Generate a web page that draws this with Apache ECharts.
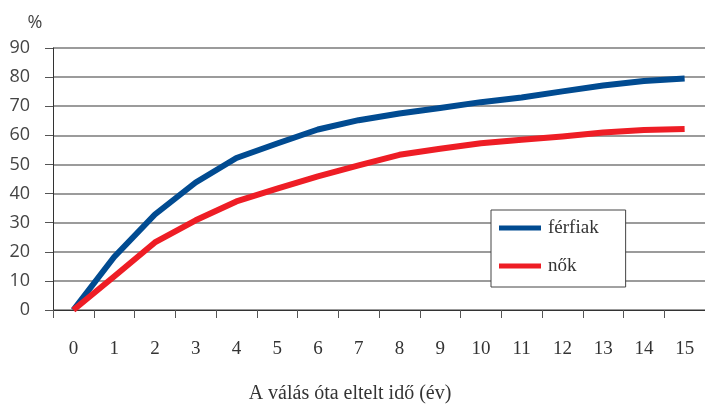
<!DOCTYPE html>
<html>
<head>
<meta charset="utf-8">
<script src="https://cdn.jsdelivr.net/npm/echarts@6/dist/echarts.min.js"></script>
<style>
html,body{margin:0;padding:0;background:#fff;}
#c{width:705px;height:409px;}
</style>
</head>
<body>
<div id="c"></div>
<script>
const years = ['0','1','2','3','4','5','6','7','8','9','10','11','12','13','14','15'];
const ferfiak = [0, 18.2, 32.8, 43.8, 52.2, 57.2, 62.0, 65.2, 67.5, 69.4, 71.4, 73.0, 75.1, 77.1, 78.7, 79.5];
const nok = [0, 11.5, 23.2, 30.8, 37.3, 41.7, 45.9, 49.7, 53.3, 55.4, 57.3, 58.5, 59.6, 61.0, 61.8, 62.2];
const yTicks = {min: 0, max: 90, interval: 10};
const xName = 'A válás óta eltelt idő (év)';
const yName = '%';
const seriesNames = ['férfiak', 'nők'];

const chart = echarts.init(document.getElementById('c'), null, {renderer: 'canvas'});
chart.setOption({
  animation: false,
  backgroundColor: '#ffffff',
  grid: {left: 53, top: 48, width: 657, height: 268, containLabel: false},
  legend: {
    show: true,
    orient: 'vertical',
    left: 491, top: 210,
    padding: [8, 27, 11, 8],
    backgroundColor: '#ffffff',
    borderColor: '#444444',
    borderWidth: 1,
    icon: 'rect',
    itemWidth: 42,
    itemHeight: 5,
    itemGap: 18,
    textStyle: {fontFamily: 'Liberation Serif', fontSize: 19, color: '#333333', lineHeight: 20, padding: [0, 0, 0, 2]},
    data: seriesNames
  },
  xAxis: {
    type: 'category',
    data: years,
    boundaryGap: true,
    name: xName,
    nameLocation: 'middle',
    nameGap: 74,
    nameTextStyle: {fontFamily: 'Liberation Serif', fontSize: 20, color: '#333333', padding: [0, 58, 0, 0]},
    axisLine: {show: true, lineStyle: {color: '#333333', width: 1}},
    axisTick: {show: true, length: 8, alignWithLabel: false, lineStyle: {color: '#555555'}},
    axisLabel: {fontFamily: 'Liberation Serif', fontSize: 19, color: '#333333', margin: 30},
    splitLine: {show: false}
  },
  yAxis: {
    type: 'value',
    min: yTicks.min, max: yTicks.max, interval: yTicks.interval,
    name: yName,
    nameLocation: 'end',
    nameGap: 16,
    nameTextStyle: {fontFamily: 'Open Sans', fontSize: 18, color: '#444444', align: 'center', padding: [0, 36, 0, 0]},
    axisLine: {show: true, lineStyle: {color: '#333333', width: 1}},
    axisTick: {show: true, length: 8, lineStyle: {color: '#555555'}},
    axisLabel: {fontFamily: 'Open Sans', fontSize: 18, color: '#444444', margin: 23},
    splitLine: {show: true, lineStyle: {color: '#7a7a7a', width: 1.5}}
  },
  series: [
    {
      name: seriesNames[0], type: 'line', data: ferfiak,
      showSymbol: false, symbol: 'none',
      itemStyle: {color: '#014b91'},
      lineStyle: {color: '#014b91', width: 6, join: 'round', cap: 'butt'}
    },
    {
      name: seriesNames[1], type: 'line', data: nok,
      showSymbol: false, symbol: 'none',
      itemStyle: {color: '#ee1d25'},
      lineStyle: {color: '#ee1d25', width: 6, join: 'round', cap: 'butt'}
    }
  ]
});
</script>
</body>
</html>
